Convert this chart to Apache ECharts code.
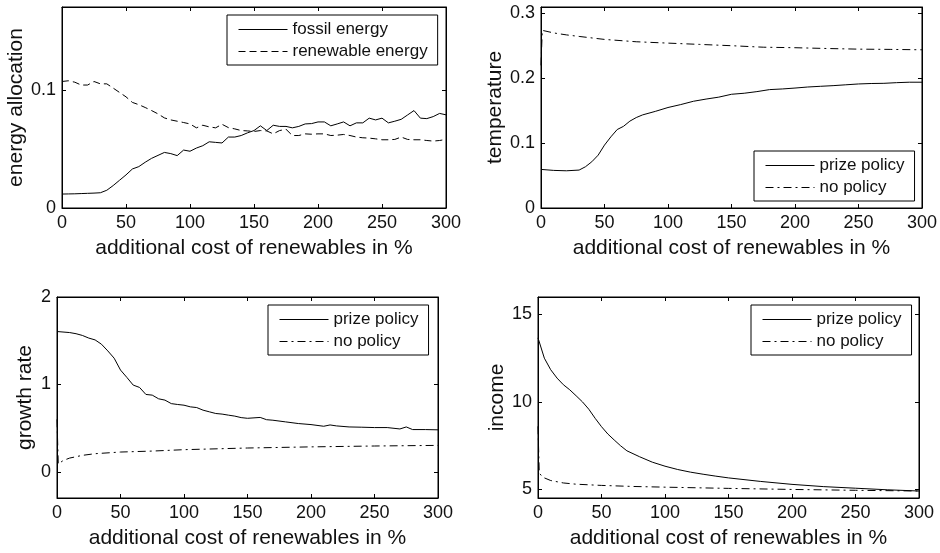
<!DOCTYPE html>
<html>
<head>
<meta charset="utf-8">
<script src="https://cdn.jsdelivr.net/npm/echarts@6/dist/echarts.min.js"></script>
<style>html,body{margin:0;padding:0;background:#fff;}#c{width:940px;height:553px;}</style>
</head>
<body>
<div id="c"></div>
<script>
// ---------- data ----------
var xTicks = [0, 50, 100, 150, 200, 250, 300];
var xLabel = 'additional cost of renewables in %';

// panel 1: energy allocation (x = 0..300 step 5)
var energyX = [0,5,10,15,20,25,30,35,40,45,50,55,60,65,70,75,80,85,90,95,100,105,110,115,120,125,130,135,140,145,150,155,160,165,170,175,180,185,190,195,200,205,210,215,220,225,230,235,240,245,250,255,260,265,270,275,280,285,290,295,300];
var fossil = [0.0118,0.0119,0.0120,0.0122,0.0124,0.0126,0.0129,0.0150,0.0190,0.0235,0.0280,0.0330,0.0350,0.0387,0.0420,0.0445,0.0470,0.0460,0.0443,0.0490,0.0480,0.0507,0.0527,0.0560,0.0555,0.0550,0.0600,0.0600,0.0613,0.0636,0.0655,0.0695,0.0655,0.0700,0.0690,0.0690,0.0678,0.0690,0.0711,0.0714,0.0728,0.0728,0.0695,0.0711,0.0728,0.0695,0.0720,0.0720,0.0760,0.0745,0.0760,0.0720,0.0734,0.0750,0.0787,0.0824,0.0760,0.0756,0.0773,0.0800,0.0788];
var renewable = [0.1070,0.1076,0.1064,0.1040,0.1040,0.1070,0.1050,0.1050,0.1014,0.0977,0.0940,0.0893,0.0874,0.0850,0.0824,0.0796,0.0762,0.0745,0.0734,0.0723,0.0711,0.0678,0.0700,0.0686,0.0678,0.0708,0.0680,0.0669,0.0655,0.0652,0.0647,0.0655,0.0652,0.0627,0.0655,0.0666,0.0613,0.0613,0.0627,0.0624,0.0627,0.0627,0.0613,0.0616,0.0622,0.0613,0.0600,0.0594,0.0591,0.0585,0.0577,0.0577,0.0580,0.0600,0.0580,0.0577,0.0577,0.0571,0.0566,0.0571,0.0580];
var energyTicks = [0, 0.1];

// panel 2: temperature
var tempPrizeX = [0,10,20,30,35,40,45,50,55,60,65,70,75,80,90,100,110,120,130,140,150,160,170,180,190,200,210,220,230,240,250,260,270,280,290,300];
var tempPrize = [0.0595,0.0580,0.0574,0.0585,0.0636,0.0713,0.0815,0.0970,0.1097,0.1210,0.1260,0.1340,0.1395,0.1436,0.1490,0.1550,0.1595,0.1646,0.1680,0.1710,0.1754,0.1770,0.1795,0.1826,0.1836,0.1850,0.1866,0.1877,0.1887,0.1900,0.1913,0.1920,0.1923,0.1933,0.1940,0.1940];
var tempNoX = [0,1,10,20,30,50,75,100,125,150,175,200,225,250,275,300];
var tempNo = [0.220,0.274,0.270,0.267,0.2646,0.260,0.2564,0.2543,0.2523,0.2503,0.2480,0.2472,0.2460,0.2450,0.2446,0.2440];
var tempTicks = [0, 0.1, 0.2, 0.3];

// panel 3: growth rate
var growthPrizeX = [0,10,15,20,25,30,35,40,45,50,55,60,65,70,75,80,85,90,95,100,105,110,115,120,125,130,135,140,145,150,160,165,170,180,190,200,210,215,220,230,240,250,260,270,275,280,290,300];
var growthPrize = [1.605,1.593,1.580,1.560,1.530,1.509,1.460,1.383,1.300,1.164,1.080,0.992,0.965,0.885,0.877,0.835,0.820,0.780,0.770,0.762,0.743,0.735,0.705,0.686,0.667,0.660,0.648,0.637,0.620,0.612,0.622,0.596,0.590,0.571,0.552,0.540,0.521,0.536,0.525,0.513,0.510,0.506,0.506,0.490,0.513,0.483,0.483,0.480];
var growthNoX = [0,1,5,10,20,30,50,75,100,150,200,250,300];
var growthNo = [0.60,0.09,0.13,0.157,0.188,0.207,0.226,0.237,0.253,0.272,0.285,0.295,0.302];
var growthTicks = [0, 1, 2];

// panel 4: income
var incomePrizeX = [0,5,10,15,20,25,30,35,40,45,50,55,60,65,70,80,90,100,110,120,130,140,150,175,200,225,250,275,300];
var incomePrize = [13.66,12.50,11.84,11.36,10.98,10.69,10.35,10.00,9.58,9.06,8.58,8.16,7.82,7.49,7.20,6.86,6.55,6.32,6.13,5.98,5.86,5.75,5.65,5.45,5.28,5.15,5.06,4.97,4.90];
var incomeNoX = [0,1,5,10,20,30,50,75,100,150,200,250,300];
var incomeNo = [8.6,5.9,5.65,5.50,5.36,5.29,5.22,5.16,5.12,5.05,4.99,4.94,4.90];
var incomeTicks = [5, 10, 15];

// ---------- build ----------
var FONT = '"Liberation Sans", Arial, Helvetica, sans-serif';
var TXT = '#111';
function pairs(xs, ys) { return xs.map(function (x, i) { return [x, ys[i]]; }); }

var panels = [
  { left: 62, top: 7, width: 384, height: 201, ymin: 0, ymax: 0.17, yTicks: energyTicks, yName: 'energy allocation', yGap: 28,
    legend: { left: 227, top: 15 },
    series: [
      { name: 'fossil energy', data: pairs(energyX, fossil), type: 'solid' },
      { name: 'renewable energy', data: pairs(energyX, renewable), type: [7, 4] }
    ] },
  { left: 541, top: 7, width: 381, height: 201, ymin: 0, ymax: 0.31, yTicks: tempTicks, yName: 'temperature', yGap: 34,
    legend: { left: 754, top: 151 },
    series: [
      { name: 'prize policy', data: pairs(tempPrizeX, tempPrize), type: 'solid' },
      { name: 'no policy', data: pairs(tempNoX, tempNo), type: [8, 4, 2, 4] }
    ] },
  { left: 57, top: 297, width: 381, height: 201, ymin: -0.3, ymax: 2, yTicks: growthTicks, yName: 'growth rate', yGap: 21,
    legend: { left: 268, top: 305 },
    series: [
      { name: 'prize policy', data: pairs(growthPrizeX, growthPrize), type: 'solid' },
      { name: 'no policy', data: pairs(growthNoX, growthNo), type: [8, 4, 2, 4] }
    ] },
  { left: 538, top: 297, width: 381, height: 201, ymin: 4.5, ymax: 16, yTicks: incomeTicks, yName: 'income', yGap: 29,
    legend: { left: 751, top: 305 },
    series: [
      { name: 'prize policy', data: pairs(incomePrizeX, incomePrize), type: 'solid' },
      { name: 'no policy', data: pairs(incomeNoX, incomeNo), type: [8, 4, 2, 4] }
    ] }
];

var option = { animation: false, backgroundColor: '#fff', grid: [], xAxis: [], yAxis: [], series: [], legend: [] };

var axisLine = { show: true, onZero: false, lineStyle: { color: '#000', width: 1 } };
var labelStyle = { color: TXT, fontSize: 18, fontFamily: FONT, margin: 6 };

panels.forEach(function (p, i) {
  option.grid.push({ left: p.left, top: p.top, width: p.width, height: p.height, show: true, borderColor: '#000', borderWidth: 1, containLabel: false });
  var xi = option.xAxis.length, yi = option.yAxis.length;
  option.xAxis.push({
    type: 'value', gridIndex: i, position: 'bottom', min: 0, max: 300,
    axisLine: axisLine, splitLine: { show: false },
    axisTick: { show: true, inside: true, length: 4, lineStyle: { color: '#000' }, customValues: xTicks },
    axisLabel: Object.assign({ customValues: xTicks }, labelStyle),
    name: xLabel, nameLocation: 'middle', nameGap: 30,
    nameTextStyle: { color: TXT, fontSize: 21, fontFamily: FONT }
  });
  option.xAxis.push({
    type: 'value', gridIndex: i, position: 'top', min: 0, max: 300,
    axisLine: axisLine, splitLine: { show: false },
    axisTick: { show: true, inside: true, length: 4, lineStyle: { color: '#000' }, customValues: xTicks },
    axisLabel: { show: false }
  });
  option.yAxis.push({
    type: 'value', gridIndex: i, position: 'left', min: p.ymin, max: p.ymax,
    axisLine: axisLine, splitLine: { show: false },
    axisTick: { show: true, inside: true, length: 4, lineStyle: { color: '#000' }, customValues: p.yTicks },
    axisLabel: Object.assign({ customValues: p.yTicks }, labelStyle),
    name: p.yName, nameLocation: 'middle', nameGap: p.yGap, nameRotate: 90,
    nameTextStyle: { color: TXT, fontSize: 21, fontFamily: FONT }
  });
  option.yAxis.push({
    type: 'value', gridIndex: i, position: 'right', min: p.ymin, max: p.ymax,
    axisLine: axisLine, splitLine: { show: false },
    axisTick: { show: true, inside: true, length: 4, lineStyle: { color: '#000' }, customValues: p.yTicks },
    axisLabel: { show: false }
  });
  p.series.forEach(function (s) {
    option.series.push({
      type: 'line', name: s.name, xAxisIndex: xi, yAxisIndex: yi, data: s.data,
      symbol: 'none', showSymbol: false, smooth: false, silent: true,
      lineStyle: { color: '#000', width: 1, type: s.type },
      itemStyle: { color: '#000' },
      emphasis: { disabled: true }
    });
  });
  option.legend.push({
    orient: 'vertical', left: p.legend.left, top: p.legend.top,
    data: p.series.map(function (s) { return s.name; }),
    backgroundColor: '#fff', borderColor: '#000', borderWidth: 1, borderRadius: 0,
    padding: [6, 10, 5, 11], itemGap: 5, itemWidth: 49, itemHeight: 14,
    itemStyle: { color: 'rgba(0,0,0,0)', borderWidth: 0, opacity: 0 },
    lineStyle: { width: 1, color: '#000' },
    textStyle: { color: TXT, fontSize: 17, fontFamily: FONT },
    selectedMode: false
  });
});

var chart = echarts.init(document.getElementById('c'), null, { renderer: 'canvas' });
chart.setOption(option);
</script>
</body>
</html>
